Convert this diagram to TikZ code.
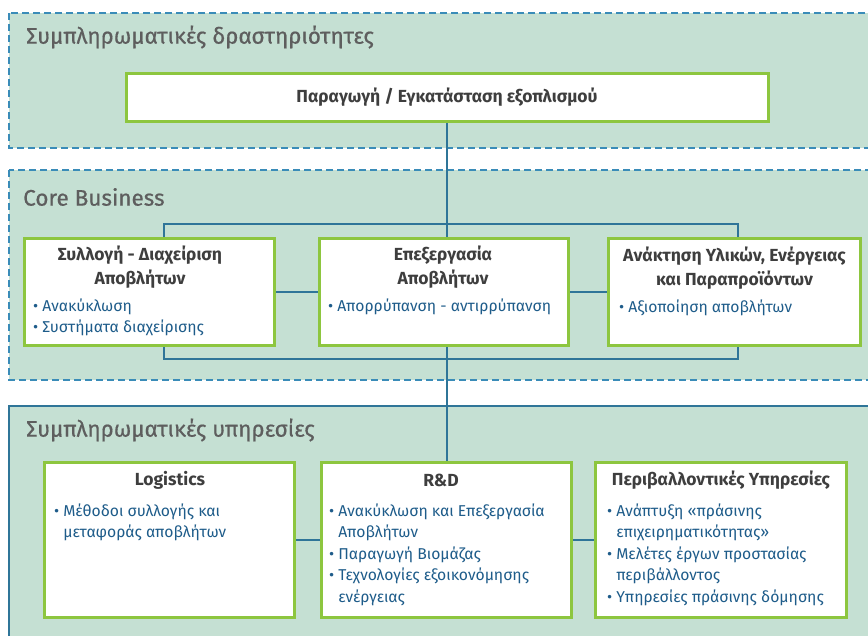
\documentclass[tikz,border=0pt]{standalone}
\usepackage{fontspec}
\setmainfont{Fira Sans}
\newfontfamily\medfont[FakeBold=0.6]{Fira Sans}
\usepackage{array}
\definecolor{panelfill}{HTML}{C5E0D3}
\definecolor{dashblue}{HTML}{3A8CB8}
\definecolor{linkblue}{HTML}{2F7598}
\definecolor{boxgreen}{HTML}{8DC63F}
\definecolor{titlegrey}{HTML}{5E5E5E}
\definecolor{boxtitle}{HTML}{3E3E3E}
\definecolor{itemblue}{HTML}{1E5C8A}
\tikzset{
  panel/.style={fill=panelfill, draw=dashblue, line width=1.2pt, dash pattern=on 7pt off 4pt},
  panelsolid/.style={fill=panelfill, draw=linkblue, line width=1.4pt},
  paneltitle/.style={anchor=west, inner sep=0pt, text=titlegrey, font=\medfont\fontsize{22.5}{26}\selectfont},
  boxnode/.style={draw=boxgreen, fill=white, line width=3pt, inner sep=0pt},
  boxhead/.style={inner sep=0pt, text=boxtitle, align=center, font=\bfseries\fontsize{17.5}{24}\selectfont},
  items/.style={anchor=base west, inner sep=0pt, text=itemblue, font=\fontsize{15.7}{21.5}\selectfont},
  link/.style={draw=linkblue, line width=1.6pt}
}
\newcommand{\bul}{\textbullet}
\newcommand{\ilist}[1]{\begin{tabular}[t]{@{}l@{\hspace{4pt}}l@{}}#1\end{tabular}}
\begin{document}
\begin{tikzpicture}[x=1pt,y=-1pt]
\useasboundingbox (0,0) rectangle (868,635);
\clip (0,0) rectangle (868,635);
% panels
\path[panel] (9,13) rectangle (885,148);
\path[panel] (9,170) rectangle (885,380);
\path[panelsolid] (9,406) rectangle (885,660);
\node[paneltitle] (pt1) at (26,37) {Συμπληρωματικές δραστηριότητες};
\node[paneltitle] (pt2) at (23,197) {Core Business};
\node[paneltitle] (pt3) at (26,430) {Συμπληρωματικές υπηρεσίες};
% boxes
\node[boxnode, minimum width=642pt, minimum height=48pt] (T) at (447.5,97.5) {};
\node[boxnode, minimum width=250pt, minimum height=107pt] (C1) at (149.5,292) {};
\node[boxnode, minimum width=249pt, minimum height=107pt] (C2) at (444,292) {};
\node[boxnode, minimum width=252pt, minimum height=107pt] (C3) at (734.5,292) {};
\node[boxnode, minimum width=250pt, minimum height=155pt] (L) at (169.5,540) {};
\node[boxnode, minimum width=250pt, minimum height=155pt] (R) at (446.5,540) {};
\node[boxnode, minimum width=251pt, minimum height=155pt] (E) at (721,540) {};
% connectors
\coordinate (v) at (447,224);
\coordinate (b1) at (164,224);
\coordinate (b3) at (738,224);
\coordinate (d1) at (164,359);
\coordinate (d3) at (738,359);
\draw[link] (T.south -| v) -- (C2.north -| v);
\draw[link] (C1.north -| b1) -- (b1) -- (b3) -- (C3.north -| b3);
\draw[link] (C1.south -| d1) -- (d1) -- (d3) -- (C3.south -| d3);
\draw[link] (C2.south -| v) -- (R.north -| v);
\draw[link] (C1.east) -- (C2.west);
\draw[link] (C2.east) -- (C3.west);
\draw[link] (L.east) -- (R.west);
\draw[link] (R.east) -- (E.west);
% box titles
\node[boxhead] (tT) at (447,97) {Παραγωγή / Εγκατάσταση εξοπλισμού};
\node[boxhead] (t1) at (140,267) {Συλλογή - Διαχείριση\\Αποβλήτων};
\node[boxhead] (t2) at (443,267) {Επεξεργασία\\Αποβλήτων};
\node[boxhead] (t3) at (734.5,268) {Ανάκτηση Υλικών, Ενέργειας\\και Παραπροϊόντων};
\node[boxhead] (tL) at (170,480) {Logistics};
\node[boxhead] (tR) at (441,480) {R\&D};
\node[boxhead] (tE) at (721,480) {Περιβαλλοντικές Υπηρεσίες};
% items
\node[items] (i1) at (33,311) {\ilist{\bul & Ανακύκλωση\\ \bul & Συστήματα διαχείρισης}};
\node[items] (i2) at (328,311) {\ilist{\bul & Απορρύπανση - αντιρρύπανση}};
\node[items] (i3) at (619,312) {\ilist{\bul & Αξιοποίηση αποβλήτων}};
\node[items] (iL) at (54,516) {\ilist{\bul & Μέθοδοι συλλογής και\\ & μεταφοράς αποβλήτων}};
\node[items] (iR) at (329,516) {\ilist{\bul & Ανακύκλωση και Επεξεργασία\\ & Αποβλήτων\\ \bul & Παραγωγή Βιομάζας\\ \bul & Τεχνολογίες εξοικονόμησης\\ & ενέργειας}};
\node[items] (iE) at (607,516) {\ilist{\bul & Ανάπτυξη «πράσινης\\ & επιχειρηματικότητας»\\ \bul & Μελέτες έργων προστασίας\\ & περιβάλλοντος\\ \bul & Υπηρεσίες πράσινης δόμησης}};
\end{tikzpicture}
\end{document}
